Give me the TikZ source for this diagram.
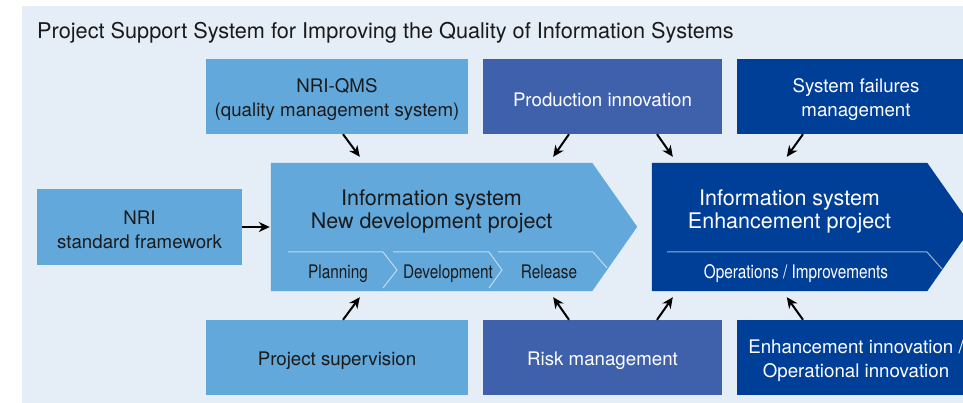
\documentclass[tikz,border=0pt]{standalone}
\usepackage{fontspec}
\setmainfont{TeX Gyre Heros}
\newfontfamily\condfont[FakeStretch=0.82]{TeX Gyre Heros}
\usepackage{xcolor}
\usetikzlibrary{arrows.meta}
\definecolor{bgpanel}{RGB}{229,237,246}
\definecolor{lightblue}{RGB}{99,168,219}
\definecolor{midblue}{RGB}{63,97,172}
\definecolor{darkblue}{RGB}{0,63,152}
\definecolor{textblack}{RGB}{26,26,26}
\newcommand{\boxstrut}{\rule{0pt}{19.7pt}}
\tikzset{
  box/.style={inner sep=0pt, minimum height=75, align=center, font=\fontsize{18.7}{24}\selectfont},
  lightbox/.style={box, fill=lightblue, text=textblack},
  midbox/.style={box, fill=midblue, text=white},
  darkbox/.style={box, fill=darkblue, text=white},
  projtext/.style={inner sep=0pt, align=center, font=\fontsize{21.5}{23}\selectfont},
  phase/.style={inner sep=0pt, anchor=base, font=\condfont\fontsize{18.7}{22}\selectfont},
  band/.style={white, opacity=0.6, line width=1pt},
  arr/.style={black, line width=2pt, -{Stealth[length=11pt,width=10pt]}}
}
\begin{document}
\begin{tikzpicture}[x=1pt, y=-1pt]
        \useasboundingbox (0,0) rectangle (963,403);
        \clip (0,0) rectangle (963,403);
        \fill[bgpanel] (22,6) rectangle (963,403);
        \node[anchor=base west, inner sep=0pt, text=textblack, font=\fontsize{21.7}{25}\selectfont] (title) at (37,39) {Project Support System for Improving the Quality of Information Systems};
        \node[lightbox, minimum width=262] (qms) at (337,96.5) {\boxstrut NRI-QMS\\(quality management system)};
        \node[midbox, minimum width=239] (prod) at (602.5,96.5) {\boxstrut Production innovation};
        \node[darkbox, minimum width=238] (fail) at (856,96.5) {\boxstrut System failures\\management};
        \node[lightbox, minimum width=205, minimum height=76] (nri) at (139.5,227) {\boxstrut NRI\\standard framework};
        \node[lightbox, minimum width=262] (sup) at (337,357.5) {\boxstrut Project supervision};
        \node[midbox, minimum width=239] (risk) at (602.5,357.5) {\boxstrut Risk management};
        \node[darkbox, minimum width=238] (inn) at (856,357.5) {\boxstrut Enhancement innovation /\\Operational innovation};
        \node[inner sep=0pt, minimum width=321, minimum height=128] (dev) at (431.5,227) {};
        \fill[lightblue] (dev.north west) -- (dev.north east) -- ++(45,64) -- (dev.south east) -- (dev.south west) -- cycle;
        \node[inner sep=0pt, minimum width=275, minimum height=128] (enh) at (789.5,227) {};
        \fill[darkblue] (enh.north west) -- (enh.north east) -- ++(45,64) -- (enh.south east) -- (enh.south west) -- cycle;
        \node[projtext, text=textblack] (devtext) at (431.5,211) {Information system\\New development project};
        \node[projtext, text=white] (enhtext) at (789.5,211) {Information system\\Enhancement project};
        \draw[band] (288,252) -- (383,252) -- (397,270) -- (383,288);
        \draw[band] (393,252) -- (489,252) -- (502,270) -- (489,288);
        \draw[band] (498,252) -- (593,252) -- (607,268);
        \draw[band] (667,252) -- (927,252) -- (942,269);
        \node[phase, text=textblack] (plan) at (338,278) {Planning};
        \node[phase, text=textblack] (build) at (448,278) {Development};
        \node[phase, text=textblack] (rel) at (549,278) {Release};
        \node[phase, text=white] (ops) at (796,278) {Operations / Improvements};
        \draw[arr] ([xshift=6]qms.south) -- ([xshift=89, yshift=6]dev.north west);
        \draw[arr] ([xshift=-33.5]prod.south) -- ([xshift=-39, yshift=6]dev.north east);
        \draw[arr] ([xshift=54.5]prod.south) -- ([xshift=21, yshift=6]enh.north west);
        \draw[arr] ([xshift=-53]fail.south) -- ([xshift=135, yshift=6]enh.north west);
        \draw[arr] (nri.east) -- ([xshift=-1]dev.west);
        \draw[arr] ([xshift=6]sup.north) -- ([xshift=89, yshift=-6]dev.south west);
        \draw[arr] ([xshift=-33.5]risk.north) -- ([xshift=-39, yshift=-6]dev.south east);
        \draw[arr] ([xshift=54.5]risk.north) -- ([xshift=21, yshift=-6]enh.south west);
        \draw[arr] ([xshift=-53]inn.north) -- ([xshift=135, yshift=-6]enh.south west);
    \end{tikzpicture}
\end{document}
